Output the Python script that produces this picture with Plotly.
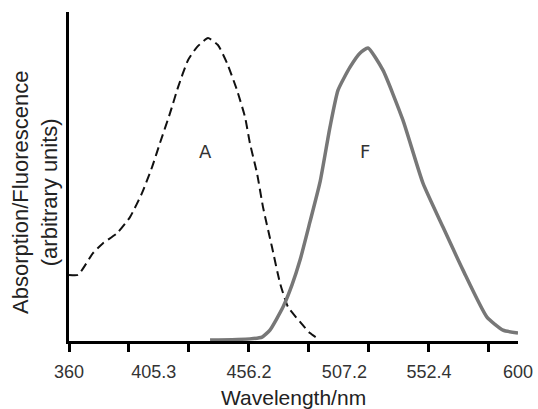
import plotly.graph_objects as go

# Absorption (dashed) spectrum
abs_wl = [360.0, 364.8, 372.8, 378.2, 385.7, 392.6, 399.0, 404.4, 408.6, 414.0,
          418.3, 423.6, 428.4, 434.3, 439.6, 444.5, 449.8, 454.1, 456.7, 460.5,
          463.7, 468.5, 472.8, 477.1, 483.5, 488.8, 492.6]
abs_val = [0.218, 0.218, 0.290, 0.323, 0.356, 0.409, 0.488, 0.574, 0.653, 0.752,
           0.838, 0.927, 0.970, 1.000, 0.977, 0.917, 0.828, 0.739, 0.653, 0.554,
           0.442, 0.310, 0.191, 0.112, 0.063, 0.026, 0.010]

# Fluorescence (solid grey) spectrum
fl_wl = [435.4, 456.7, 463.2, 467.4, 474.4, 479.2, 483.5, 488.8, 494.2, 499.5,
         503.8, 510.2, 515.5, 519.8, 527.8, 538.5, 549.2, 559.9, 570.6, 583.4,
         592.0, 600.0]
fl_val = [0.003, 0.007, 0.013, 0.036, 0.112, 0.185, 0.267, 0.393, 0.525, 0.706,
          0.828, 0.904, 0.950, 0.967, 0.894, 0.729, 0.521, 0.376, 0.234, 0.079,
          0.036, 0.026]

tick_marks = [360, 392, 424, 456, 488, 520, 552, 584]
label_vals = [360, 405.3, 456.2, 507.2, 552.4, 600]
label_text = ["360", "405.3", "456.2", "507.2", "552.4", "600"]

fig = go.Figure()
fig.add_trace(go.Scatter(x=abs_wl, y=abs_val, mode="lines",
                         line=dict(color="#111111", width=2, dash="9px,5px",
                                   shape="spline", smoothing=0.5),
                         showlegend=False, hoverinfo="skip"))
fig.add_trace(go.Scatter(x=fl_wl, y=fl_val, mode="lines",
                         line=dict(color="#777777", width=3.5,
                                   shape="spline", smoothing=0.5),
                         showlegend=False, hoverinfo="skip"))
# invisible trace so the label axis has data bound to it
fig.add_trace(go.Scatter(x=[360, 600], y=[0, 0], xaxis="x2", mode="lines",
                         line=dict(width=0), opacity=0, showlegend=False, hoverinfo="skip"))

font_main = "Liberation Sans, Arial, sans-serif"

fig.update_layout(
    width=538, height=409,
    margin=dict(l=69, r=20, t=12, b=68, autoexpand=False),
    paper_bgcolor="white", plot_bgcolor="white",
    xaxis=dict(range=[360, 600], showline=True, linecolor="black", linewidth=3,
               ticks="outside", tickvals=tick_marks, ticklen=8, tickwidth=3,
               tickcolor="black", showticklabels=False, showgrid=False,
               zeroline=False, layer="below traces", automargin=False),
    xaxis2=dict(range=[360, 600], overlaying="x", anchor="y", side="bottom",
                showline=False, ticks="", tickvals=label_vals, ticktext=label_text,
                showgrid=False, zeroline=False, ticklabelstandoff=18, automargin=False,
                tickfont=dict(family=font_main, size=18, color="#333333")),
    yaxis=dict(range=[0, 1.086], showline=True, linecolor="black", linewidth=3,
               ticks="", showticklabels=False, showgrid=False, zeroline=False,
               layer="below traces", automargin=False),
    annotations=[
        dict(text="Absorption/Fluorescence<br>(arbitrary units)", xref="paper", yref="paper",
             x=-0.0757, y=0.450, xanchor="center", yanchor="middle", textangle=-90,
             showarrow=False, font=dict(family=font_main, size=22, color="#222222")),
        dict(text="Wavelength/nm", xref="paper", yref="paper", x=0.5, y=-0.173,
             xanchor="center", yanchor="middle", showarrow=False,
             font=dict(family=font_main, size=21, color="#222222")),
        dict(text="A", xref="x", yref="y", x=432.7, y=0.624, showarrow=False,
             font=dict(family="DejaVu Sans, sans-serif", size=18, color="#333333")),
        dict(text="F", xref="x", yref="y", x=518.2, y=0.624, showarrow=False,
             font=dict(family="DejaVu Sans, sans-serif", size=18, color="#333333")),
    ],
)

fig.write_html("out.html", config={"displayModeBar": False},
               post_script="document.body.style.margin='0px';")
